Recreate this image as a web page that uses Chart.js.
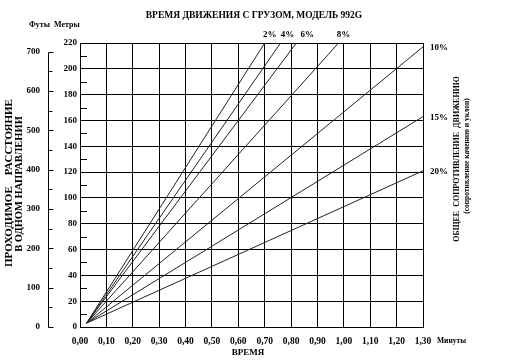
<!DOCTYPE html>
<html><head><meta charset="utf-8">
<script src="https://cdn.jsdelivr.net/npm/chart.js@4"></script>
<style>html,body{margin:0;padding:0;background:#fff}#wrap{width:523px;height:361px}</style>
</head><body><div id="wrap"><canvas id="c" width="523" height="361"></canvas></div>
<script>
// ---- data ----
const grades = ['2%', '4%', '6%', '8%', '10%', '15%', '20%'];
const startTime = 0.025;
const startDist = 3;
const endTimes = [0.70, 0.76, 0.82, 0.98, 1.30, 1.30, 1.30];
const endDists = [220, 220, 220, 220, 217, 163, 121];
const xTicks = [0, 0.1, 0.2, 0.3, 0.4, 0.5, 0.6, 0.7, 0.8, 0.9, 1.0, 1.1, 1.2, 1.3];
const meterTicks = [0, 20, 40, 60, 80, 100, 120, 140, 160, 180, 200, 220];
const meterMinor = [10, 30, 50, 70, 90, 110, 130, 150, 170, 190, 210];
const feetTicks = [0, 100, 200, 300, 400, 500, 600, 700];
const feetMinor = [50, 150, 250, 350, 450, 550, 650];
const FT_PER_M = 3.28084;

const SERIF = '"Liberation Serif", "DejaVu Serif", serif';
const fnt = (s, w) => (w || 'bold') + ' ' + s + 'px ' + SERIF;
const topLabelShift = [5, 7, 11, 5];

const decor = {
  id: 'decor',
  afterDraw(chart) {
    const ctx = chart.ctx, a = chart.chartArea;
    const xs = chart.scales.x, ys = chart.scales.y, fs = chart.scales.yFt;
    ctx.save();
    ctx.fillStyle = '#000';
    ctx.strokeStyle = '#000';
    ctx.lineWidth = 1;
    // title
    ctx.font = fnt(9.5);
    ctx.textAlign = 'center'; ctx.textBaseline = 'middle';
    ctx.fillText('ВРЕМЯ ДВИЖЕНИЯ С ГРУЗОМ, МОДЕЛЬ 992G', 254, 16);
    // units header
    ctx.font = fnt(8);
    ctx.textAlign = 'left';
    ctx.fillText('Футы  Метры', 29, 25);
    // feet axis line + ticks
    const fx = 48.5;
    ctx.beginPath();
    ctx.moveTo(fx, Math.round(fs.getPixelForValue(0)) + 0.5);
    ctx.lineTo(fx, Math.round(fs.getPixelForValue(700)) + 0.5);
    feetTicks.forEach(v => { const y = Math.round(fs.getPixelForValue(v)) + 0.5; ctx.moveTo(fx, y); ctx.lineTo(fx + 5, y); });
    feetMinor.forEach(v => { const y = Math.round(fs.getPixelForValue(v)) + 0.5; ctx.moveTo(fx, y); ctx.lineTo(fx + 4, y); });
    // meter minor ticks inside plot
    meterMinor.forEach(v => { const y = Math.round(ys.getPixelForValue(v)) + 0.5; ctx.moveTo(a.left, y); ctx.lineTo(a.left + 7, y); });
    ctx.stroke();
    // grade labels
    ctx.font = fnt(9);
    let k = 0;
    grades.forEach((g, i) => {
      if (endDists[i] >= 220) {
        ctx.textAlign = 'center';
        ctx.fillText(g, xs.getPixelForValue(endTimes[i]) + topLabelShift[k++], a.top - 8);
      } else {
        ctx.textAlign = 'left';
        ctx.fillText(g, a.right + 7, ys.getPixelForValue(endDists[i]) + 1);
      }
    });
    // x units + title
    ctx.font = fnt(7.5);
    ctx.textAlign = 'left';
    ctx.fillText('Минуты', 437, 341);
    ctx.font = fnt(9);
    ctx.textAlign = 'center';
    ctx.fillText('ВРЕМЯ', 248, 353);
    // left rotated titles
    ctx.save();
    ctx.translate(9, 183); ctx.rotate(-Math.PI / 2);
    ctx.font = fnt(11);
    ctx.fillText('ПРОХОДИМОЕ    РАССТОЯНИЕ', 0, 0);
    ctx.restore();
    ctx.save();
    ctx.translate(19, 184); ctx.rotate(-Math.PI / 2);
    ctx.font = fnt(10.5);
    ctx.fillText('В ОДНОМ НАПРАВЛЕНИИ', 0, 0);
    ctx.restore();
    // right rotated titles
    ctx.save();
    ctx.translate(457, 159); ctx.rotate(-Math.PI / 2);
    ctx.font = fnt(8);
    ctx.fillText('ОБЩЕЕ  СОПРОТИВЛЕНИЕ  ДВИЖЕНИЮ', 0, 0);
    ctx.restore();
    ctx.save();
    ctx.translate(467, 156); ctx.rotate(-Math.PI / 2);
    ctx.font = fnt(7.5);
    ctx.fillText('(сопротивление качению и уклон)', 0, 0);
    ctx.restore();
    ctx.restore();
  }
};

new Chart(document.getElementById('c'), {
  type: 'line',
  data: {
    datasets: grades.map((g, i) => ({
      label: g,
      data: [{ x: startTime, y: startDist }, { x: endTimes[i], y: endDists[i] }],
      borderColor: '#222',
      borderWidth: 1,
      pointRadius: 0,
      fill: false,
      tension: 0,
      yAxisID: 'y'
    }))
  },
  options: {
    responsive: false,
    animation: false,
    devicePixelRatio: 1,
    layout: { padding: { top: 43, right: 100, left: 0, bottom: 0 } },
    plugins: { legend: { display: false }, title: { display: false }, tooltip: { enabled: false } },
    scales: {
      x: {
        type: 'linear', min: 0, max: 1.3,
        afterBuildTicks: s => { s.ticks = xTicks.map(v => ({ value: v })); },
        afterFit: s => { s.height = 34; },
        ticks: {
          color: '#000', font: { family: SERIF, size: 9.5, weight: 'bold' }, padding: 9,
          maxRotation: 0, autoSkip: false,
          callback: v => v.toFixed(2).replace('.', ',')
        },
        grid: { color: '#000', lineWidth: 1, drawTicks: false },
        border: { color: '#000', width: 1 }
      },
      y: {
        type: 'linear', position: 'left', min: 0, max: 220, weight: 0,
        afterBuildTicks: s => { s.ticks = meterTicks.map(v => ({ value: v })); },
        afterFit: s => { s.width = 32; },
        ticks: { color: '#000', font: { family: SERIF, size: 9, weight: 'bold' }, padding: 3 },
        grid: { color: '#000', lineWidth: 1, drawTicks: false },
        border: { color: '#000', width: 1 }
      },
      yFt: {
        type: 'linear', position: 'left', min: 0, max: 220 * FT_PER_M, weight: 1,
        afterBuildTicks: s => { s.ticks = feetTicks.map(v => ({ value: v })); },
        afterFit: s => { s.width = 48; },
        ticks: { color: '#000', font: { family: SERIF, size: 9, weight: 'bold' }, padding: 8 },
        grid: { display: false, drawTicks: false, drawOnChartArea: false },
        border: { display: false }
      }
    }
  },
  plugins: [decor]
});
</script>
</body></html>
